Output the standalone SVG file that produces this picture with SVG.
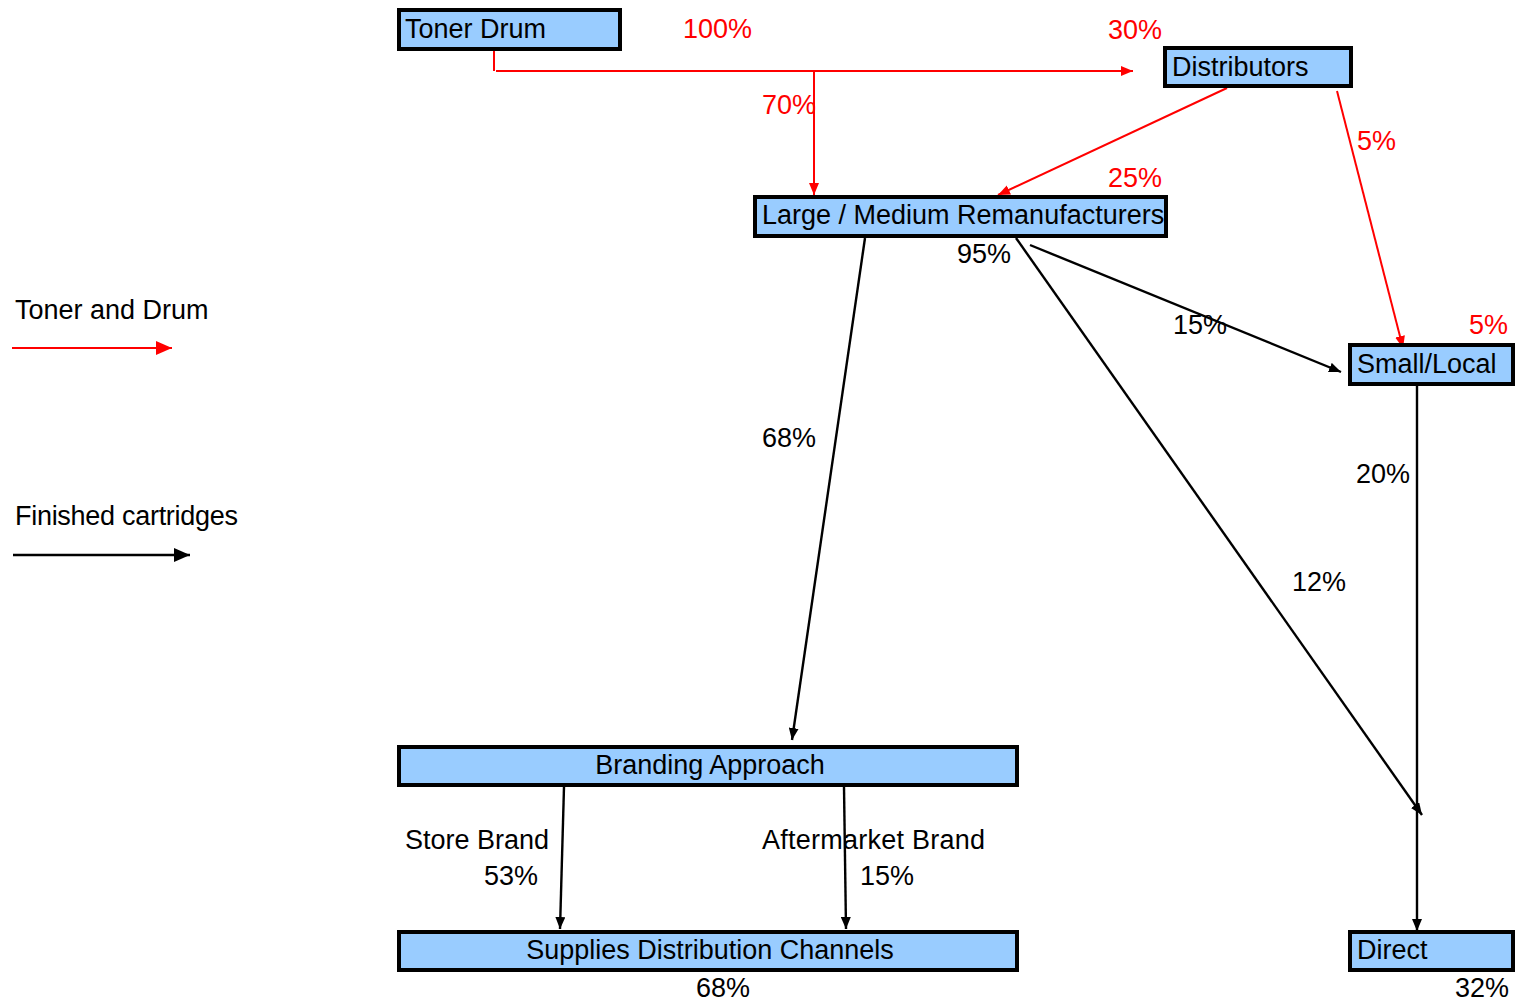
<svg xmlns="http://www.w3.org/2000/svg" width="1516" height="1001" viewBox="0 0 1516 1001">
<style>
text{font-family:"Liberation Sans",Arial,sans-serif;font-size:27px;fill:#000}
.red{fill:#ff0000}
.box{fill:#99ccff;stroke:none}
.bd{fill:none;stroke:#000;stroke-width:4}
.rl{stroke:#ff0000;stroke-width:2;fill:none}
.bl{stroke:#000;stroke-width:2.4;fill:none}
</style>
<defs>
<marker id="ar" markerUnits="userSpaceOnUse" markerWidth="12" markerHeight="10" refX="12" refY="5" orient="auto"><path d="M0,0 L12,5 L0,10 z" fill="#ff0000"/></marker>
<marker id="ab" markerUnits="userSpaceOnUse" markerWidth="12" markerHeight="10" refX="12" refY="5" orient="auto"><path d="M0,0 L12,5 L0,10 z" fill="#000"/></marker>
<marker id="arL" markerUnits="userSpaceOnUse" markerWidth="16" markerHeight="14" refX="16" refY="7" orient="auto"><path d="M0,0 L16,7 L0,14 z" fill="#ff0000"/></marker>
<marker id="abL" markerUnits="userSpaceOnUse" markerWidth="16" markerHeight="14" refX="16" refY="7" orient="auto"><path d="M0,0 L16,7 L0,14 z" fill="#000"/></marker>
</defs>
<g id="connectors">
<path class="rl" d="M494,50 V71"/>
<line class="rl" x1="496" y1="71" x2="1133" y2="71" marker-end="url(#ar)"/>
<line class="rl" x1="814" y1="71" x2="814" y2="195" marker-end="url(#ar)"/>
<line class="rl" x1="1227" y1="88" x2="998" y2="195" marker-end="url(#ar)"/>
<line class="rl" x1="1337" y1="91" x2="1403" y2="348" marker-end="url(#ar)"/>
<line class="bl" x1="865" y1="238" x2="792" y2="740" marker-end="url(#ab)"/>
<line class="bl" x1="1030" y1="245" x2="1341" y2="372" marker-end="url(#ab)"/>
<line class="bl" x1="1016" y1="238" x2="1422" y2="815" marker-end="url(#ab)"/>
<line class="bl" x1="1417" y1="386" x2="1417" y2="931" marker-end="url(#ab)"/>
<line class="bl" x1="564" y1="787" x2="560" y2="929" marker-end="url(#ab)"/>
<line class="bl" x1="844" y1="787" x2="846" y2="929" marker-end="url(#ab)"/>
</g>
<g id="legend">
<text x="15" y="319">Toner and Drum</text>
<line class="rl" x1="12" y1="348" x2="172" y2="348" marker-end="url(#arL)"/>
<text x="15" y="525" textLength="223">Finished cartridges</text>
<line class="bl" x1="13" y1="555" x2="190" y2="555" marker-end="url(#abL)"/>
</g>
<g id="node-toner-drum">
<rect class="box" x="399" y="10" width="221" height="39"/>
<text x="405" y="38">Toner Drum</text>
<rect class="bd" x="399" y="10" width="221" height="39"/>
</g>
<g id="node-distributors">
<rect class="box" x="1165" y="48" width="186" height="38"/>
<text x="1172" y="76">Distributors</text>
<rect class="bd" x="1165" y="48" width="186" height="38"/>
</g>
<g id="node-large-medium">
<rect class="box" x="755" y="197" width="411" height="39"/>
<text x="762" y="224">Large / Medium Remanufacturers</text>
<rect class="bd" x="755" y="197" width="411" height="39"/>
</g>
<g id="node-small-local">
<rect class="box" x="1350" y="345" width="163" height="39"/>
<text x="1357" y="373">Small/Local</text>
<rect class="bd" x="1350" y="345" width="163" height="39"/>
</g>
<g id="node-branding">
<rect class="box" x="399" y="747" width="618" height="38"/>
<text x="710" y="774" text-anchor="middle">Branding Approach</text>
<rect class="bd" x="399" y="747" width="618" height="38"/>
</g>
<g id="node-supplies">
<rect class="box" x="399" y="932" width="618" height="38"/>
<text x="710" y="959" text-anchor="middle">Supplies Distribution Channels</text>
<rect class="bd" x="399" y="932" width="618" height="38"/>
</g>
<g id="node-direct">
<rect class="box" x="1350" y="932" width="163" height="38"/>
<text x="1357" y="959">Direct</text>
<rect class="bd" x="1350" y="932" width="163" height="38"/>
</g>
<g id="labels">
<text class="red" x="683" y="38">100%</text>
<text class="red" x="1108" y="39">30%</text>
<text class="red" x="762" y="114">70%</text>
<text class="red" x="1357" y="150">5%</text>
<text class="red" x="1108" y="187">25%</text>
<text class="red" x="1469" y="334">5%</text>
<text x="957" y="263">95%</text>
<text x="1173" y="334">15%</text>
<text x="762" y="447">68%</text>
<text x="1356" y="483">20%</text>
<text x="1292" y="591">12%</text>
<text x="405" y="849">Store Brand</text>
<text x="484" y="885">53%</text>
<text x="762" y="849" textLength="223">Aftermarket Brand</text>
<text x="860" y="885">15%</text>
<text x="696" y="997">68%</text>
<text x="1455" y="997">32%</text>
</g>
</svg>
